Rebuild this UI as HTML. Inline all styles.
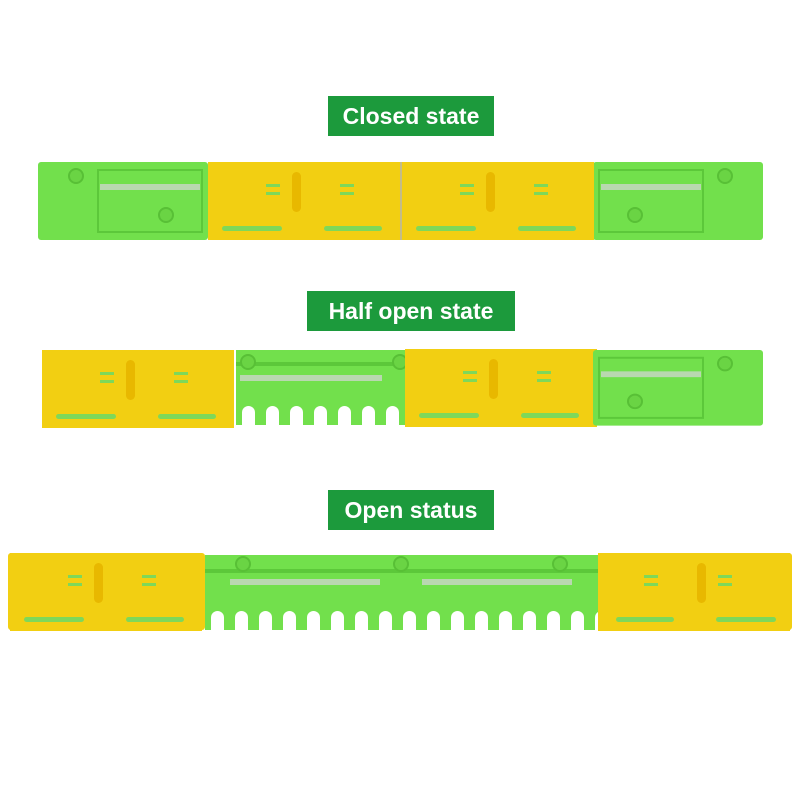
<!DOCTYPE html>
<html><head><meta charset="utf-8"><style>
body{margin:0;background:#fff;width:800px;height:800px;overflow:hidden}
.lab{position:absolute;background:#1c9a3c;color:#fff;font:bold 23px "Liberation Sans",sans-serif;text-align:center;line-height:40px;height:40px}
</style></head><body>
<div class="lab" style="left:328px;top:96px;width:166px">Closed state</div>
<div class="lab" style="left:307px;top:291px;width:208px">Half open state</div>
<div class="lab" style="left:328px;top:490px;width:166px">Open status</div>
<svg width="800" height="800" style="position:absolute;left:0;top:0">
<defs>
<g id="yel">
 <rect x="0" y="0" width="192" height="78" fill="#f2cf12"/>
 <rect x="84" y="10" width="9" height="40" rx="4.5" fill="#e8b800"/>
 <g fill="#7ed85a">
  <rect x="58" y="22" width="14" height="3"/><rect x="58" y="30" width="14" height="3"/>
  <rect x="132" y="22" width="14" height="3"/><rect x="132" y="30" width="14" height="3"/>
  <rect x="14" y="64" width="60" height="5" rx="2.5"/><rect x="116" y="64" width="58" height="5" rx="2.5"/>
 </g>
</g>
<g id="grn">
 <rect x="0" y="0" width="170" height="78" rx="3" fill="#72e04c"/>
 <rect x="60" y="8" width="104" height="62" fill="none" stroke="#5cc83a" stroke-width="2"/>
 <rect x="62" y="22" width="100" height="6" fill="#b9d8b0"/>
 <circle cx="38" cy="14" r="7" fill="#6ad444" stroke="#58c036" stroke-width="2"/>
 <circle cx="128" cy="53" r="7" fill="#6ad444" stroke="#58c036" stroke-width="2"/>
</g>
<pattern id="notch2" x="236" y="406" width="24" height="60" patternUnits="userSpaceOnUse">
 <rect x="6" y="0" width="13" height="40" rx="6.5" fill="#fff"/>
</pattern>
<pattern id="notch3" x="205" y="611" width="24" height="60" patternUnits="userSpaceOnUse">
 <rect x="6" y="0" width="13" height="40" rx="6.5" fill="#fff"/>
</pattern>
</defs>
<!-- Bar 1 -->
<use href="#grn" x="38" y="162"/>
<g transform="translate(763,162) scale(-1,1)"><use href="#grn"/></g>
<use href="#yel" x="208" y="162"/>
<use href="#yel" x="402" y="162"/>
<line x1="401" y1="162" x2="401" y2="240" stroke="#8a7a10" stroke-width="1"/>
<!-- Bar 2 -->
<use href="#yel" x="42" y="350"/>
<rect x="236" y="350" width="170" height="75" fill="#72e04c"/>
<rect x="236" y="362" width="170" height="4" fill="#5cc83a"/>
<rect x="240" y="375" width="142" height="6" fill="#b9d8b0"/>
<circle cx="248" cy="362" r="7" fill="#6ad444" stroke="#58c036" stroke-width="2"/>
<circle cx="400" cy="362" r="7" fill="#6ad444" stroke="#58c036" stroke-width="2"/>
<rect x="236" y="406" width="170" height="20" fill="url(#notch2)"/>
<use href="#yel" x="405" y="349"/>
<g transform="translate(763,350) scale(-1,1)"><use href="#grn" transform="scale(1,0.97)"/></g>
<!-- Bar 3 -->
<rect x="8" y="553" width="197" height="77" rx="3" fill="#f2cf12"/>
<use href="#yel" x="10" y="553"/>
<rect x="205" y="555" width="393" height="75" fill="#72e04c"/>
<rect x="205" y="569" width="393" height="4" fill="#5cc83a"/>
<rect x="230" y="579" width="150" height="6" fill="#b9d8b0"/>
<rect x="422" y="579" width="150" height="6" fill="#b9d8b0"/>
<circle cx="243" cy="564" r="7" fill="#6ad444" stroke="#58c036" stroke-width="2"/>
<circle cx="401" cy="564" r="7" fill="#6ad444" stroke="#58c036" stroke-width="2"/>
<circle cx="560" cy="564" r="7" fill="#6ad444" stroke="#58c036" stroke-width="2"/>
<rect x="205" y="611" width="393" height="20" fill="url(#notch3)"/>
<rect x="598" y="553" width="194" height="77" rx="3" fill="#f2cf12"/>
<g transform="translate(790,553) scale(-1,1)"><use href="#yel"/></g>
</svg>
</body></html>
